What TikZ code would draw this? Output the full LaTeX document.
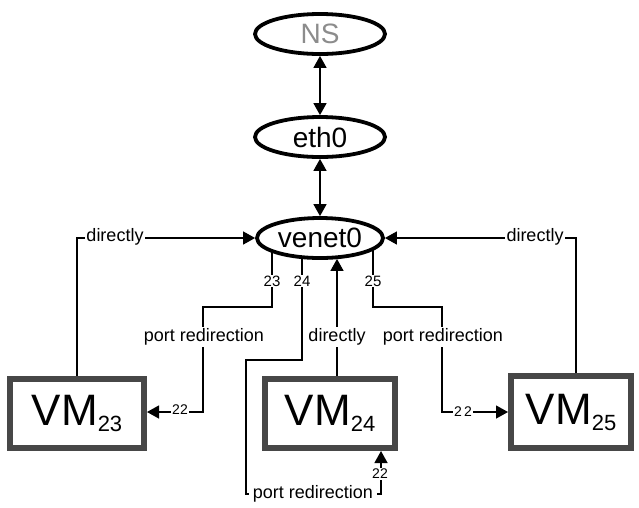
\documentclass[tikz,border=0pt]{standalone}
\usepackage{fontspec}
\setmainfont{Liberation Sans}
\usetikzlibrary{shapes.geometric,arrows.meta,calc}
\pgfdeclarelayer{background}
\pgfsetlayers{background,main}
\begin{document}
\begin{tikzpicture}[x=1pt,y=-1pt,
 ell/.style={ellipse,draw,line width=3.8pt,fill=white,inner sep=0pt,minimum width=130pt,minimum height=40pt,font=\fontsize{28}{30}\selectfont},
 vmbox/.style={rectangle,draw=black!72,line width=6pt,fill=white,inner sep=0pt,font=\fontsize{44}{48}\selectfont},
 conn/.style={line width=1.3pt},
 tip/.style={-{Triangle[length=12pt,width=13pt]}},
 biarr/.style={line width=1.5pt,{Triangle[length=12pt,width=13pt]}-{Triangle[length=12pt,width=13pt]}},
 lbl/.style={fill=white,inner sep=1.5pt,font=\fontsize{18}{20}\selectfont},
 num/.style={fill=white,inner sep=1pt,font=\fontsize{15}{16}\selectfont},
]
\useasboundingbox (0,0) rectangle (639,507);
\newcommand{\vmlabel}[1]{VM\raisebox{-6pt}{\fontsize{22}{22}\selectfont #1}}

\node[ell,text=black!45] (NS) at (320,34) {NS};
\node[ell] (eth0) at (320,137) {eth0};
\node[ell,minimum width=126pt] (venet0) at (320,238) {venet0};

\node[vmbox,minimum width=134pt,minimum height=69pt] (VM23) at (77,413.5) {\vmlabel{23}};
\node[vmbox,minimum width=130pt,minimum height=69pt] (VM24) at (330,413.5) {\vmlabel{24}};
\node[vmbox,minimum width=120pt,minimum height=72pt] (VM25) at (571,412) {\vmlabel{25}};

\begin{pgfonlayer}{background}
\draw[biarr] (NS) -- (eth0);
\draw[biarr] (eth0) -- (venet0);

% directly connections
\draw[conn,tip] (VM23.north) |- (venet0.west);
\node[lbl] (d1) at (115,237) {directly};
\draw[conn,tip] ($(VM25.north)+(5,0)$) |- (venet0.east);
\node[lbl] (d3) at (535,237) {directly};
\draw[conn,tip] ($(VM24.north)+(7,0)$) -- ($(venet0.south)+(17,-1)$);
\node[lbl] (d2) at (337,337) {directly};

% port 23
\draw[conn,tip] ($(venet0.center)+(-48,10)$) -- (272,307) -- (203,307) -- (203,412) -- (VM23.east |- 0,412);
\node[num] (p23) at (272,281) {23};
\node[lbl] (pr1) at (204,337) {port redirection};
\node[num,font=\fontsize{14}{15}\selectfont] (q23) at (180,410) {22};

% port 24
\draw[conn,tip] ($(venet0.center)+(-18,10)$) -- (302,360) -- (246,360) -- (246,494) -- (381,494) -- ($(VM24.south east)+(-17,0)$);
\node[num] (p24) at (302,281) {24};
\node[lbl,inner xsep=4pt] (pr2) at (313,494) {port redirection};
\node[num,font=\fontsize{14}{15}\selectfont] (q24) at (380,474) {22};

% port 25
\draw[conn,tip] ($(venet0.center)+(53,10)$) -- (373,307) -- (442,307) -- (442,412) -- (VM25.west);
\node[num] (p25) at (373,281) {25};
\node[lbl] (pr3) at (443,337) {port redirection};
\node[num,font=\fontsize{14}{15}\selectfont] (q25) at (463,412) {2\,2};
\end{pgfonlayer}
\end{tikzpicture}
\end{document}
